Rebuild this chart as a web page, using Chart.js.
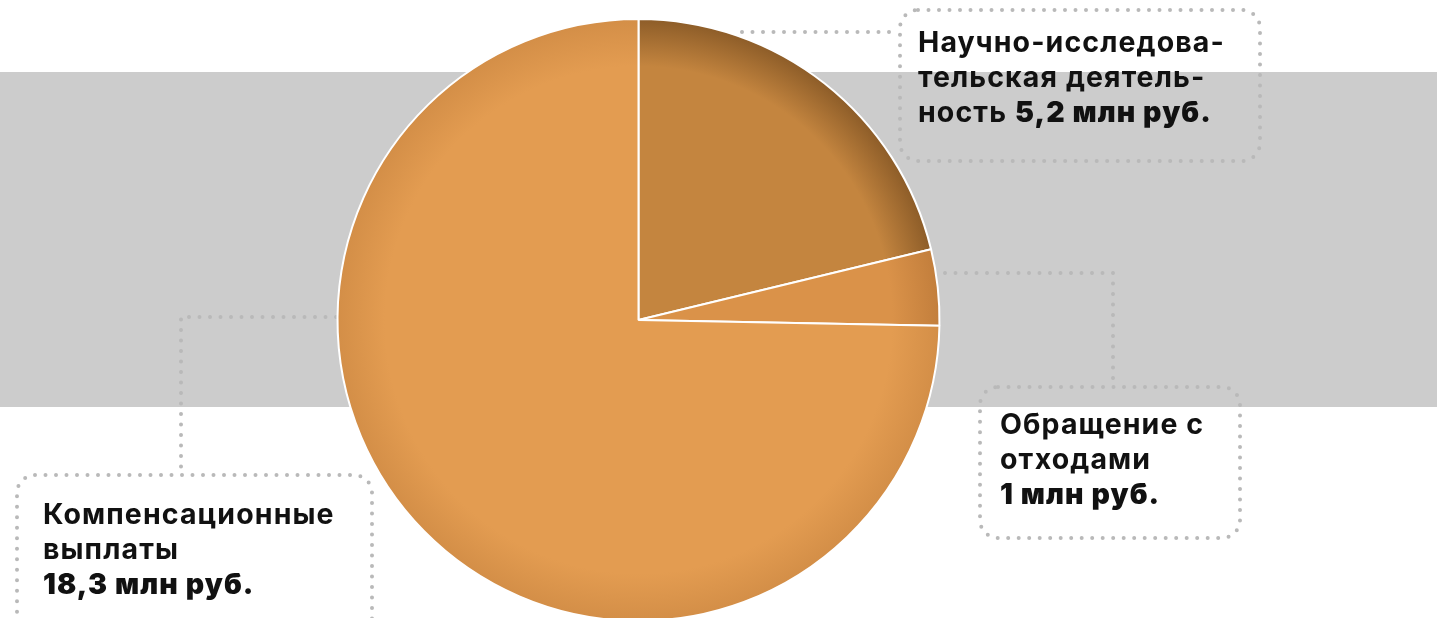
<!DOCTYPE html>
<html>
<head>
<meta charset="utf-8">
<script src="https://cdn.jsdelivr.net/npm/chart.js@4.4.1/dist/chart.umd.min.js"></script>
<style>
  html, body { margin: 0; padding: 0; background: #fff; overflow: hidden; }
  #wrap { position: relative; width: 1437px; height: 618px; overflow: hidden; }
  #band { position: absolute; left: 0; top: 72px; width: 1437px; height: 335px; background: #cccccc; }
  #box { position: absolute; left: 0; top: 0; width: 1437px; height: 640px; }
  .lbl {
    position: absolute; font-family: Inter, "Noto Sans", sans-serif; font-weight: 700;
    font-size: 28.5px; line-height: 35px; letter-spacing: 1.1px; color: #111; white-space: nowrap;
  }
  .lbl b { font-weight: 900; }
</style>
</head>
<body>
<div id="wrap">
  <div id="band"></div>
  <div id="box"><canvas id="pieChart"></canvas></div>
  <div class="lbl" style="left:918px; top:24px;">Научно-исследова-<br>тельская деятель-<br>ность <b>5,2 млн руб.</b></div>
  <div class="lbl" style="left:1000px; top:406px;">Обращение с<br>отходами<br><b>1 млн руб.</b></div>
  <div class="lbl" style="left:43px; top:496px;">Компенсационные<br>выплаты<br><b>18,3 млн руб.</b></div>
</div>
<script>
// Spending structure, mln rub.
const categories = ['Научно-исследовательская деятельность', 'Обращение с отходами', 'Компенсационные выплаты'];
const values = [5.2, 1, 18.3];
const baseColors = ['#c4853f', '#da9249', '#e39c51'];
const rimColors = ['#8c5c28', '#c27e3c', '#d38e47'];

function sliceFill(ctx) {
  const chart = ctx.chart;
  const area = chart.chartArea;
  const i = ctx.dataIndex;
  if (!area) return baseColors[i];
  const cx = (area.left + area.right) / 2;
  const cy = (area.top + area.bottom) / 2;
  const r = Math.min(area.right - area.left, area.bottom - area.top) / 2;
  const g = chart.ctx.createRadialGradient(cx, cy, 0, cx, cy, r);
  g.addColorStop(0, baseColors[i]);
  g.addColorStop(0.84, baseColors[i]);
  g.addColorStop(1, rimColors[i]);
  return g;
}

// dotted leader lines and rounded frames
const framesPlugin = {
  id: 'frames',
  beforeDatasetsDraw(chart) {
    const c = chart.ctx;
    c.save();
    c.strokeStyle = '#b9b9b9';
    c.lineWidth = 4;
    c.lineCap = 'round';
    c.setLineDash([0, 10.5]);
    const path = (pts) => {
      c.beginPath();
      c.moveTo(pts[0][0], pts[0][1]);
      for (let k = 1; k < pts.length; k++) c.lineTo(pts[k][0], pts[k][1]);
      c.stroke();
    };
    path([[742, 32], [898, 32]]);
    path([[945, 273], [1113, 273], [1113, 385]]);
    path([[336, 317], [181, 317], [181, 473]]);
    const frame = (x, y, w, h) => {
      c.beginPath();
      c.roundRect(x, y, w, h, 18);
      c.stroke();
    };
    frame(900, 10, 360, 151);
    frame(980, 387, 260, 151);
    frame(17, 475, 355, 170);
    c.restore();
  }
};

Chart.defaults.animation = false;
new Chart(document.getElementById('pieChart'), {
  type: 'pie',
  data: {
    labels: categories,
    datasets: [{
      data: values,
      backgroundColor: sliceFill,
      borderColor: '#ffffff',
      borderWidth: 2
    }]
  },
  options: {
    responsive: true,
    maintainAspectRatio: false,
    animation: false,
    layout: { padding: { top: 18, bottom: 18, left: 2, right: 162 } },
    plugins: { legend: { display: false }, tooltip: { enabled: false } }
  },
  plugins: [framesPlugin]
});
</script>
</body>
</html>
